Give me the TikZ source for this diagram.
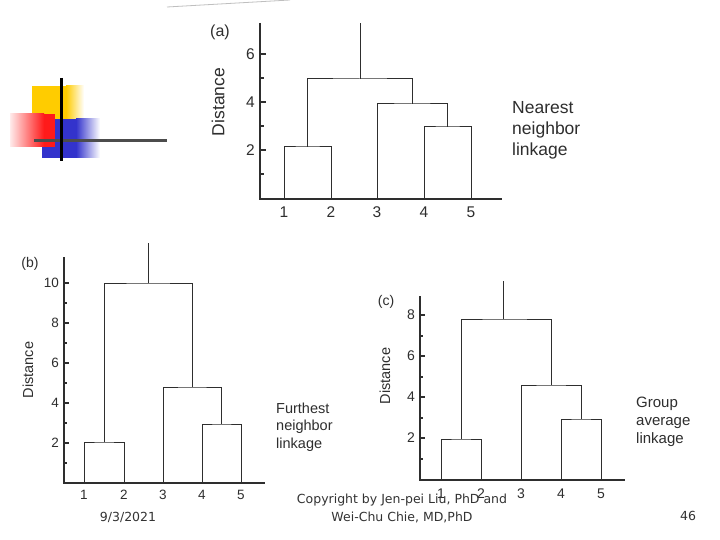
\documentclass[tikz,border=0pt]{standalone}
\usepackage{fontspec}
\setmainfont{Liberation Sans}
\newfontfamily\slidefont{DejaVu Sans}
\usepackage{xcolor}
\usetikzlibrary{positioning}
\definecolor{ink}{HTML}{2E2E2E}
\definecolor{bulletyellow}{HTML}{FFCC00}
\definecolor{bulletred}{HTML}{FF1A1A}
\definecolor{bulletblue}{HTML}{3333CC}
\definecolor{footgray}{HTML}{333333}

\begin{document}
\begin{tikzpicture}[
    x=1pt, y=-1pt,
    axis/.style={draw=ink, line width=1.1pt},
    tree/.style={draw=ink, line width=1pt},
    num/.style={text=ink, inner sep=0pt, font=\fontsize{#1}{#1}\selectfont},
    leaf/.style={num=#1, text height=0.72*#1pt, text depth=0pt},
    note/.style={text=ink, inner sep=0pt, anchor=west, align=left},
    foot/.style={text=footgray, inner sep=0pt, align=center, font=\slidefont\fontsize{12.5}{18}\selectfont}
]
    \useasboundingbox[fill=white] (0,0) rectangle (720,540);
    % Slide bullet decoration
    \fill[bulletyellow] (32,86) rectangle (66,119);
    \shade[left color=bulletyellow, right color=white] (66,86) rectangle (84,119);
    \fill[bulletblue] (42,119) rectangle (76,158);
    \shade[left color=bulletblue, right color=white] (76,119) rectangle (100,158);
    \shade[left color=red!8, right color=bulletred] (10,114) rectangle (44,147);
    \fill[bulletred] (44,114) rectangle (55,147);
    \draw[black!70, line width=3pt] (34,141) -- (167,141);
    \draw[black, line width=3pt] (61,78) -- (61,161);
    \draw[black!25, line width=0.8pt] (167,7) -- (290,0);

    % (a) Nearest neighbor linkage
    \node[num=16] (alabel) at (220,32) {(a)};
    \node[num=17.5, rotate=90] (adist) at (218,102) {Distance};
    \draw[axis] (260,23) -- (260,199) -- (502,199);
    \draw[axis] (260,54) -- ++(6,0) (260,102) -- ++(6,0) (260,150) -- ++(6,0)
        (260,78) -- ++(4,0) (260,126) -- ++(4,0) (260,174) -- ++(4,0);
    \node[num=15.5, anchor=east] (a6) at (255,54) {6};
    \node[num=15.5, anchor=east] (a4) at (255,102) {4};
    \node[num=15.5, anchor=east] (a2) at (255,150) {2};
    \coordinate (leafa1) at (284,199);
    \coordinate (leafa2) at (331,199);
    \coordinate (leafa3) at (377,199);
    \coordinate (leafa4) at (424,199);
    \coordinate (leafa5) at (471,199);
    \coordinate (a12) at (307.5,147);
    \coordinate (a45) at (447.5,127);
    \coordinate (a345) at (412,104);
    \coordinate (aroot) at (360,79);
    \coordinate (atop) at (360,23);
    \draw[tree] (leafa1) |- (a12) -| (leafa2);
    \draw[tree] (leafa4) |- (a45) -| (leafa5);
    \draw[tree] (leafa3) |- (a345) -| (a45);
    \draw[tree] (a12) |- (aroot) -| (a345);
    \draw[tree] (aroot) -- (atop);
    \node[leaf=15.5, below=7pt of leafa1] (al1) {1};
    \node[leaf=15.5, below=7pt of leafa2] (al2) {2};
    \node[leaf=15.5, below=7pt of leafa3] (al3) {3};
    \node[leaf=15.5, below=7pt of leafa4] (al4) {4};
    \node[leaf=15.5, below=7pt of leafa5] (al5) {5};
    \node[note, font=\fontsize{17.5}{21}\selectfont] (anote) at (512,130) {Nearest\\neighbor\\linkage};

    % (b) Furthest neighbor linkage
    \node[num=14] (blabel) at (30,264) {(b)};
    \node[num=14.5, rotate=90] (bdist) at (28,370) {Distance};
    \draw[axis] (64,257) -- (64,483) -- (265,483);
    \draw[axis] (64,283) -- ++(5,0) (64,323) -- ++(5,0) (64,363) -- ++(5,0) (64,403) -- ++(5,0) (64,443) -- ++(5,0)
        (64,303) -- ++(3,0) (64,343) -- ++(3,0) (64,383) -- ++(3,0) (64,423) -- ++(3,0) (64,463) -- ++(3,0);
    \node[num=13.5, anchor=east] (b10) at (59,283) {10};
    \node[num=13.5, anchor=east] (b8) at (59,323) {8};
    \node[num=13.5, anchor=east] (b6) at (59,363) {6};
    \node[num=13.5, anchor=east] (b4) at (59,403) {4};
    \node[num=13.5, anchor=east] (b2) at (59,443) {2};
    \coordinate (leafb1) at (84,483);
    \coordinate (leafb2) at (124,483);
    \coordinate (leafb3) at (163,483);
    \coordinate (leafb4) at (202,483);
    \coordinate (leafb5) at (241,483);
    \coordinate (b12) at (104,442);
    \coordinate (b45) at (221.5,424);
    \coordinate (b345) at (192,387);
    \coordinate (broot) at (148,283);
    \coordinate (btop) at (148,243);
    \draw[tree] (leafb1) |- (b12) -| (leafb2);
    \draw[tree] (leafb4) |- (b45) -| (leafb5);
    \draw[tree] (leafb3) |- (b345) -| (b45);
    \draw[tree] (b12) |- (broot) -| (b345);
    \draw[tree] (broot) -- (btop);
    \node[leaf=13.5, below=7pt of leafb1] (bl1) {1};
    \node[leaf=13.5, below=7pt of leafb2] (bl2) {2};
    \node[leaf=13.5, below=7pt of leafb3] (bl3) {3};
    \node[leaf=13.5, below=7pt of leafb4] (bl4) {4};
    \node[leaf=13.5, below=7pt of leafb5] (bl5) {5};
    \node[note, font=\fontsize{14.5}{17.5}\selectfont] (bnote) at (276,427) {Furthest\\neighbor\\linkage};

    % (c) Group average linkage
    \node[num=14] (clabel) at (386,302) {(c)};
    \node[num=14.5, rotate=90] (cdist) at (385,376) {Distance};
    \draw[axis] (420,296) -- (420,480) -- (625,480);
    \draw[axis] (420,315) -- ++(5,0) (420,356) -- ++(5,0) (420,397) -- ++(5,0) (420,438) -- ++(5,0)
        (420,336) -- ++(3,0) (420,377) -- ++(3,0) (420,418) -- ++(3,0) (420,459) -- ++(3,0);
    \node[num=14, anchor=east] (c8) at (415,315) {8};
    \node[num=14, anchor=east] (c6) at (415,356) {6};
    \node[num=14, anchor=east] (c4) at (415,397) {4};
    \node[num=14, anchor=east] (c2) at (415,438) {2};
    \coordinate (leafc1) at (441,480);
    \coordinate (leafc2) at (481,480);
    \coordinate (leafc3) at (521,480);
    \coordinate (leafc4) at (561,480);
    \coordinate (leafc5) at (601,480);
    \coordinate (c12) at (461,439);
    \coordinate (c45) at (581,419);
    \coordinate (c345) at (551,385);
    \coordinate (croot) at (503,319);
    \coordinate (ctop) at (503,281);
    \draw[tree] (leafc1) |- (c12) -| (leafc2);
    \draw[tree] (leafc4) |- (c45) -| (leafc5);
    \draw[tree] (leafc3) |- (c345) -| (c45);
    \draw[tree] (c12) |- (croot) -| (c345);
    \draw[tree] (croot) -- (ctop);
    \node[leaf=14, below=8pt of leafc1] (cl1) {1};
    \node[leaf=14, below=8pt of leafc2] (cl2) {2};
    \node[leaf=14, below=8pt of leafc3] (cl3) {3};
    \node[leaf=14, below=8pt of leafc4] (cl4) {4};
    \node[leaf=14, below=8pt of leafc5] (cl5) {5};
    \node[note, font=\fontsize{15}{18}\selectfont] (cnote) at (636,422) {Group\\average\\linkage};

    % Slide footer
    \node[foot] (date) at (128,517) {9/3/2021};
    \node[foot] (copy) at (402,508) {Copyright by Jen-pei Liu, PhD and\\Wei-Chu Chie, MD,PhD};
    \node[foot] (page) at (688,516) {46};
\end{tikzpicture}
\end{document}
